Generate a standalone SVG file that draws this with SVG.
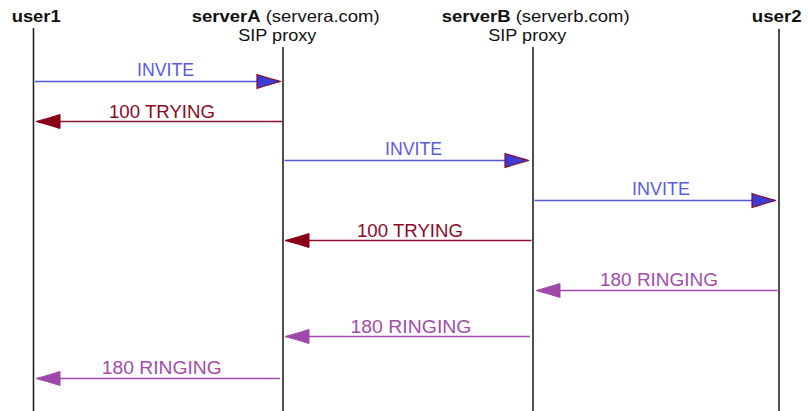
<svg xmlns="http://www.w3.org/2000/svg" width="809" height="411" viewBox="0 0 809 411">
  <style>
    text { font-family: "Liberation Sans", Arial, sans-serif; }
    .hdr { font-size: 16.5px; fill: #111; }
    .b { font-weight: bold; }
    .lifeline { stroke: #222; stroke-width: 1.6; fill: none; }
    .lbl { font-size: 18px; text-anchor: middle; }
    .invite line { stroke: #5656dc; stroke-width: 1.5; }
    .invite text { fill: #5a5ae0; }
    .invite use { fill: #3c3cd4; stroke: #8a0a2a; stroke-width: 1.2; }
    .trying line { stroke: #8e1030; stroke-width: 1.5; }
    .trying text { fill: #8e0a24; }
    .trying use { fill: #880018; stroke: #880018; stroke-width: 1; }
    .ringing line { stroke: #a54cb0; stroke-width: 1.5; }
    .ringing text { fill: #a24cac; }
    .ringing use { fill: #a048aa; stroke: #a048aa; stroke-width: 1; }
  </style>
  <defs>
    <!-- pennant-shaped head, tip at the origin, pointing right -->
    <path id="head" d="M0,0 Q-10,-2.5 -24,-7 L-24,7 Q-10,2.5 0,0 Z"/>
  </defs>

  <g id="user1">
    <text class="hdr b" x="11.7" y="22" textLength="49" lengthAdjust="spacingAndGlyphs">user1</text>
    <line class="lifeline" x1="33.5" y1="28" x2="33.5" y2="411"/>
  </g>
  <g id="serverA">
    <text class="hdr" x="191.7" y="22" textLength="188" lengthAdjust="spacingAndGlyphs"><tspan class="b">serverA</tspan> (servera.com)</text>
    <text class="hdr" x="238.3" y="41" textLength="78" lengthAdjust="spacingAndGlyphs">SIP proxy</text>
    <line class="lifeline" x1="283" y1="47" x2="283" y2="411"/>
  </g>
  <g id="serverB">
    <text class="hdr" x="441.7" y="22" textLength="188" lengthAdjust="spacingAndGlyphs"><tspan class="b">serverB</tspan> (serverb.com)</text>
    <text class="hdr" x="488.3" y="41" textLength="78" lengthAdjust="spacingAndGlyphs">SIP proxy</text>
    <line class="lifeline" x1="533" y1="47" x2="533" y2="411"/>
  </g>
  <g id="user2">
    <text class="hdr b" x="751.7" y="22" textLength="50" lengthAdjust="spacingAndGlyphs">user2</text>
    <line class="lifeline" x1="779" y1="29" x2="779" y2="411"/>
  </g>

  <g id="connectors">
    <g class="invite">
      <line x1="35" y1="81.5" x2="262" y2="81.5"/>
      <use href="#head" transform="translate(281,81.5)"/>
      <text class="lbl" x="165.5" y="76" textLength="57" lengthAdjust="spacingAndGlyphs">INVITE</text>
    </g>
    <g class="trying">
      <line x1="282" y1="121.5" x2="55" y2="121.5"/>
      <use href="#head" transform="translate(36,121.5) scale(-1,1)"/>
      <text class="lbl" x="162" y="117.5" textLength="106" lengthAdjust="spacingAndGlyphs">100 TRYING</text>
    </g>
    <g class="invite">
      <line x1="284.5" y1="160.5" x2="510" y2="160.5"/>
      <use href="#head" transform="translate(529,160.5)"/>
      <text class="lbl" x="413.5" y="155" textLength="57" lengthAdjust="spacingAndGlyphs">INVITE</text>
    </g>
    <g class="invite">
      <line x1="534.5" y1="200.5" x2="756" y2="200.5"/>
      <use href="#head" transform="translate(776,200.5)"/>
      <text class="lbl" x="661" y="195" textLength="58" lengthAdjust="spacingAndGlyphs">INVITE</text>
    </g>
    <g class="trying">
      <line x1="531.5" y1="240.5" x2="304" y2="240.5"/>
      <use href="#head" transform="translate(285,240.5) scale(-1,1)"/>
      <text class="lbl" x="410" y="236.5" textLength="106" lengthAdjust="spacingAndGlyphs">100 TRYING</text>
    </g>
    <g class="ringing">
      <line x1="777.5" y1="290.5" x2="555" y2="290.5"/>
      <use href="#head" transform="translate(536,290.5) scale(-1,1)"/>
      <text class="lbl" x="659" y="286" textLength="118" lengthAdjust="spacingAndGlyphs">180 RINGING</text>
    </g>
    <g class="ringing">
      <line x1="530" y1="336.5" x2="304" y2="336.5"/>
      <use href="#head" transform="translate(285,336.5) scale(-1,1)"/>
      <text class="lbl" x="411" y="332.5" textLength="121" lengthAdjust="spacingAndGlyphs">180 RINGING</text>
    </g>
    <g class="ringing">
      <line x1="280" y1="378.5" x2="55" y2="378.5"/>
      <use href="#head" transform="translate(36,378.5) scale(-1,1)"/>
      <text class="lbl" x="161.7" y="374" textLength="120" lengthAdjust="spacingAndGlyphs">180 RINGING</text>
    </g>
  </g>
</svg>
